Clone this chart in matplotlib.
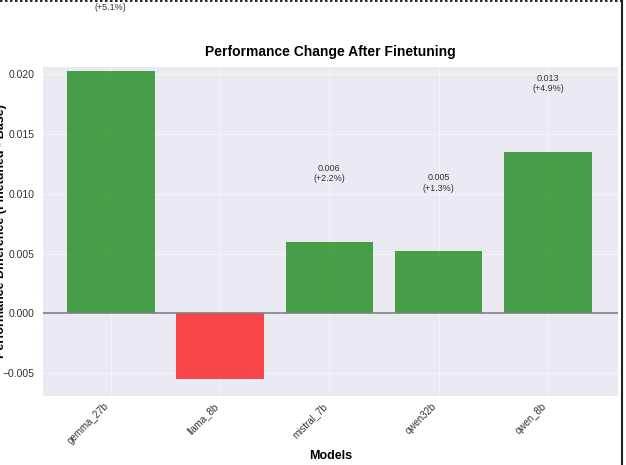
import matplotlib
matplotlib.use("Agg")
import matplotlib.pyplot as plt
from matplotlib.lines import Line2D

models = ["gemma_27b", "llama_8b", "mistral_7b", "qwen32b", "qwen_8b"]
diffs = [0.0203, -0.0055, 0.0060, 0.0052, 0.0135]
pcts = [5.1, -1.7, 2.2, 1.3, 4.9]

plt.rcParams['font.family'] = ['Liberation Sans', 'DejaVu Sans']
fig = plt.figure(figsize=(6.26, 4.65), dpi=100)
W, H = 626, 465
ax = fig.add_axes([43/W, 1-396/H, 575/W, 329/H])
ax.set_facecolor('#EAEAF2')
for s in ax.spines.values():
    s.set_visible(False)
ax.grid(True, color='#F4F4F8', linewidth=0.8)
ax.set_axisbelow(True)

colors = ['green' if d >= 0 else 'red' for d in diffs]
x = range(len(models))
ax.bar(x, diffs, width=0.8, color=colors, alpha=0.7)
ax.axhline(0, color='gray', linewidth=1.2)
for i, (d, p) in enumerate(zip(diffs, pcts)):
    yy = d + 0.0057 if d >= 0 else d - 0.0057
    ax.text(i, yy, f"{d:.3f}\n({p:+.1f}%)", ha='center', va='center',
            fontsize=6.5, color='#333333', clip_on=(d < 0))

ax.set_ylim(-0.0069, 0.0206)
ax.set_xlim(-0.62, 4.64)
ax.set_xticks(list(x))
ax.set_xticklabels(models, rotation=45, ha='right', fontsize=7, color='#333333')
ax.tick_params(axis='y', labelsize=7.5, colors='#333333', length=0, pad=6)
ax.tick_params(axis='x', length=0)
ax.set_yticks([-0.005, 0.0, 0.005, 0.010, 0.015, 0.020])
ax.set_yticklabels(["−0.005", "0.000", "0.005", "0.010", "0.015", "0.020"])
ax.set_title("Performance Change After Finetuning", fontsize=10, fontweight='bold', pad=8)
ax.set_xlabel("Models", fontsize=9, fontweight='bold')
ax.xaxis.set_label_coords(0.5, -0.165)
ax.set_ylabel("Performance Difference (Finetuned - Base)", fontsize=9, fontweight='bold')
ax.yaxis.set_label_coords(-0.062, 0.5)

fig.add_artist(Line2D([0, 622/W], [1-1.5/H]*2, transform=fig.transFigure,
                      color='black', linestyle=(0, (1.5, 1.5)), linewidth=1.2))
fig.add_artist(Line2D([622/W]*2, [0, 1], transform=fig.transFigure,
                      color='#222222', linewidth=1.5))
fig.savefig("out.png", dpi=100)
